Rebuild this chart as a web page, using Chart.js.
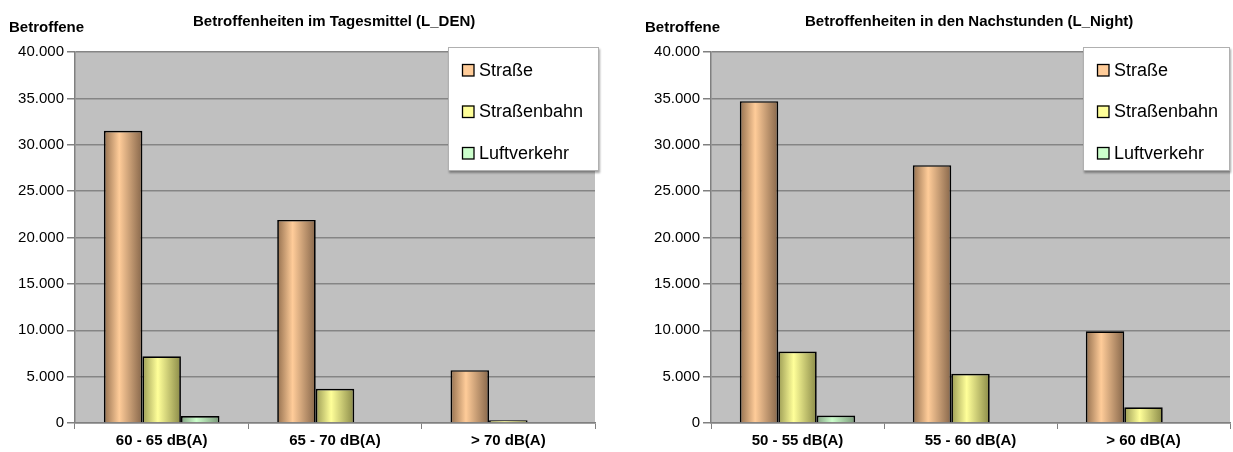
<!DOCTYPE html>
<html>
<head>
<meta charset="utf-8">
<script src="https://cdn.jsdelivr.net/npm/chart.js@4/dist/chart.umd.min.js"></script>
<style>
  html, body { margin: 0; padding: 0; background: #fff; }
  #wrap { position: relative; width: 1233px; height: 452px; overflow: hidden; }
  canvas { position: absolute; top: 0; }
  #den { left: 0; }
  #night { left: 616px; }
</style>
</head>
<body>
<div id="wrap">
  <canvas id="den" width="616" height="452"></canvas>
  <canvas id="night" width="617" height="452"></canvas>
</div>
<script>
// Noise exposure: affected residents per level band, by source
const seriesNames = ['Straße', 'Straßenbahn', 'Luftverkehr'];

const denCategories = ['60 - 65 dB(A)', '65 - 70 dB(A)', '> 70 dB(A)'];
const denStrasse = [31500, 21900, 5700];
const denStrassenbahn = [7200, 3700, 300];
const denLuftverkehr = [750, 0, 0];

const nightCategories = ['50 - 55 dB(A)', '55 - 60 dB(A)', '> 60 dB(A)'];
const nightStrasse = [34700, 27800, 9900];
const nightStrassenbahn = [7700, 5300, 1700];
const nightLuftverkehr = [800, 0, 0];

const yTickValues = [0, 5000, 10000, 15000, 20000, 25000, 30000, 35000, 40000];

const FONT = '"Liberation Sans", Arial, sans-serif';
const CAT_PCT = 0.667;

// flat fill for legend keys, plus shading stops for the bars
const palette = [
  { flat: '#ffcc99', dark: '#94704f', light: '#ffcc99', dark2: '#86664a' },
  { flat: '#ffff99', dark: '#9c9c55', light: '#ffff99', dark2: '#8a8a48' },
  { flat: '#ccffcc', dark: '#82a282', light: '#ccffcc', dark2: '#789878' }
];

function fmtThousands(v) {
  return String(v).replace(/\B(?=(\d{3})+(?!\d))/g, '.');
}

function barFill(p) {
  return (ctx) => {
    const chart = ctx.chart;
    const xs = chart.scales && chart.scales.x;
    if (!xs || !xs.width || ctx.type !== 'data') return p.flat;
    const n = chart.data.datasets.length;
    const cat = xs.width / chart.data.labels.length;
    const group = cat * CAT_PCT;
    const bw = group / n;
    const cx = xs.getPixelForValue(ctx.dataIndex);
    const x0 = cx - group / 2 + ctx.datasetIndex * bw;
    const g = chart.ctx.createLinearGradient(x0, 0, x0 + bw, 0);
    g.addColorStop(0, p.dark);
    g.addColorStop(0.4, p.light);
    g.addColorStop(1, p.dark2);
    return g;
  };
}

// plot background, headings and the boxed legend
const framePlugin = {
  id: 'frame',
  beforeDraw(chart) {
    const a = chart.chartArea;
    const c = chart.ctx;
    c.save();
    c.fillStyle = '#c0c0c0';
    c.fillRect(a.left, a.top, a.right - a.left, a.bottom - a.top);
    c.restore();
  },
  afterDraw(chart, args, o) {
    const c = chart.ctx;
    c.save();
    c.fillStyle = '#000';
    c.textBaseline = 'alphabetic';
    c.textAlign = 'left';
    c.font = 'bold 15px ' + FONT;
    c.fillText(o.axisLabel, o.axisLabelX, 32);
    c.fillText(o.title, o.titleX, 26);

    // legend box
    const L = o.legend;
    c.save();
    c.shadowColor = 'rgba(0,0,0,0.35)';
    c.shadowOffsetX = 1;
    c.shadowOffsetY = 2;
    c.shadowBlur = 2;
    c.fillStyle = '#fff';
    c.fillRect(L.x, L.y, L.w, L.h);
    c.restore();
    c.strokeStyle = '#b0b0b0';
    c.lineWidth = 1;
    c.strokeRect(L.x + 0.5, L.y + 0.5, L.w - 1, L.h - 1);

    c.font = '18px ' + FONT;
    c.textBaseline = 'middle';
    chart.data.datasets.forEach((ds, i) => {
      const cy = L.y + L.rowTop + i * L.rowGap;
      c.fillStyle = palette[i].flat;
      c.fillRect(L.keyX, cy - 6, 12, 12);
      c.strokeStyle = '#000';
      c.lineWidth = 1.3;
      c.strokeRect(L.keyX + 0.5, cy - 5.5, 11.5, 11.5);
      c.fillStyle = '#000';
      c.fillText(ds.label, L.textX, cy + 1);
    });
    c.restore();
  }
};

function makeChart(id, categories, s1, s2, s3, cfg) {
  const canvas = document.getElementById(id);
  const W = canvas.width;
  const values = [s1, s2, s3];
  return new Chart(canvas, {
    type: 'bar',
    data: {
      labels: categories,
      datasets: values.map((d, i) => ({
        label: seriesNames[i],
        data: d,
        backgroundColor: barFill(palette[i]),
        borderColor: '#000',
        borderWidth: 1.7,
        categoryPercentage: CAT_PCT,
        barPercentage: 1
      }))
    },
    options: {
      responsive: false,
      animation: false,
      layout: { padding: { top: 52, right: W - cfg.plotRight, left: 0, bottom: 0 } },
      scales: {
        x: {
          grid: { drawOnChartArea: false, drawTicks: true, tickLength: 6, color: '#808080', offset: true },
          border: { color: '#808080', width: 1.5 },
          ticks: { color: '#000', font: { family: FONT, size: 15, weight: 'bold' }, padding: 3, maxRotation: 0 },
          afterFit(s) { s.height = 29; }
        },
        y: {
          min: 0,
          max: 40000,
          afterBuildTicks(s) { s.ticks = yTickValues.map(v => ({ value: v })); },
          ticks: { color: '#000', font: { family: FONT, size: 15 }, padding: 3, callback: v => fmtThousands(v) },
          grid: { color: '#858585', tickLength: 8, tickColor: '#808080', lineWidth: 1.5 },
          border: { color: '#808080', width: 1.5 },
          afterFit(s) { s.width = cfg.plotLeft; }
        }
      },
      plugins: {
        legend: { display: false },
        tooltip: { enabled: false },
        frame: cfg.frame
      }
    },
    plugins: [framePlugin]
  });
}

makeChart('den', denCategories, denStrasse, denStrassenbahn, denLuftverkehr, {
  plotLeft: 75,
  plotRight: 595,
  frame: {
    axisLabel: 'Betroffene', axisLabelX: 9,
    title: 'Betroffenheiten im Tagesmittel (L_DEN)', titleX: 193,
    legend: { x: 448, y: 47, w: 151, h: 124, keyX: 462, textX: 479, rowTop: 23, rowGap: 41.5 }
  }
});

makeChart('night', nightCategories, nightStrasse, nightStrassenbahn, nightLuftverkehr, {
  plotLeft: 95,
  plotRight: 614,
  frame: {
    axisLabel: 'Betroffene', axisLabelX: 29,
    title: 'Betroffenheiten in den Nachstunden (L_Night)', titleX: 189,
    legend: { x: 467, y: 47, w: 147, h: 124, keyX: 481, textX: 498, rowTop: 23, rowGap: 41.5 }
  }
});
</script>
</body>
</html>
